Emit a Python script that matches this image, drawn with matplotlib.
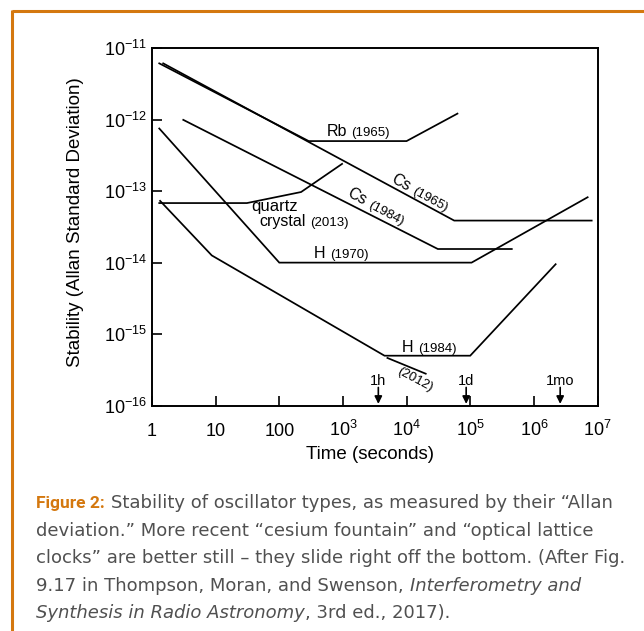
import math
import matplotlib
matplotlib.use("Agg")
import matplotlib.pyplot as plt
from matplotlib.lines import Line2D
from matplotlib.font_manager import FontProperties

# ---------------- data ----------------
rb1965_t = [1.3, 290, 1.0e4, 6.3e4]
rb1965_s = [6.1e-12, 5.0e-13, 5.0e-13, 1.21e-12]
cs1965_t = [1.5, 5.6e4, 8.1e6]
cs1965_s = [6.1e-12, 3.87e-14, 3.87e-14]
cs1984_t = [3.1, 3.1e4, 4.5e5]
cs1984_s = [9.9e-13, 1.55e-14, 1.55e-14]
quartz2013_t = [1.3, 31, 220, 970]
quartz2013_s = [6.8e-14, 6.8e-14, 9.7e-14, 2.4e-13]
h1970_t = [1.3, 100, 1.05e5, 7.0e6]
h1970_s = [7.5e-13, 1.0e-14, 1.0e-14, 8.2e-14]
h1984_t = [1.34, 8.7, 4.5e3, 1.0e5, 2.2e6]
h1984_s = [7.3e-14, 1.26e-14, 5.0e-16, 5.0e-16, 9.5e-15]
h2012_t = [5.0e3, 2.0e4]
h2012_s = [4.65e-16, 2.8e-16]

xticks = [1, 10, 100, 1e3, 1e4, 1e5, 1e6, 1e7]
xticklabels = ["1", "10", "100", r"$\mathrm{10^3}$", r"$\mathrm{10^4}$",
               r"$\mathrm{10^5}$", r"$\mathrm{10^6}$", r"$\mathrm{10^7}$"]
yticks = [1e-16, 1e-15, 1e-14, 1e-13, 1e-12, 1e-11]
yticklabels = [r"$\mathrm{10^{-16}}$", r"$\mathrm{10^{-15}}$", r"$\mathrm{10^{-14}}$",
               r"$\mathrm{10^{-13}}$", r"$\mathrm{10^{-12}}$", r"$\mathrm{10^{-11}}$"]

marker_names = ["1h", "1d", "1mo"]
marker_secs = [3600, 86400, 2.592e6]

caption_lines = [
    [("Figure 2:", "bold", False),
     ("Stability of oscillator types, as measured by their \u201cAllan", "normal", True)],
    [("deviation.\u201d More recent \u201ccesium fountain\u201d and \u201coptical lattice", "normal", False)],
    [("clocks\u201d are better still \u2013 they slide right off the bottom. (After Fig.", "normal", False)],
    [("9.17 in Thompson, Moran, and Swenson,", "normal", False),
     ("Interferometry and", "italic", True)],
    [("Synthesis in Radio Astronomy", "italic", False),
     (", 3rd ed., 2017).", "normal", False)],
]

# ---------------- style ----------------
plt.rcParams["font.family"] = ["Liberation Sans", "DejaVu Sans"]
plt.rcParams["mathtext.fontset"] = "custom"
plt.rcParams["mathtext.rm"] = "Liberation Sans"
plt.rcParams["mathtext.it"] = "Liberation Sans:italic"
plt.rcParams["mathtext.bf"] = "Liberation Sans:bold"

W, H = 644, 631
fig = plt.figure(figsize=(W / 100, H / 100), dpi=100)
fig.patch.set_facecolor("white")
renderer = fig.canvas.get_renderer()

ax = fig.add_axes([152 / W, 1 - 405.7 / H, 445.5 / W, 357.7 / H])
ax.set_xscale("log")
ax.set_yscale("log")
ax.set_xlim(1, 1e7)
ax.set_ylim(1e-16, 1e-11)

lw = 1.25
for t, s in [(rb1965_t, rb1965_s), (cs1965_t, cs1965_s), (cs1984_t, cs1984_s),
             (quartz2013_t, quartz2013_s), (h1970_t, h1970_s), (h1984_t, h1984_s),
             (h2012_t, h2012_s)]:
    ax.plot(t, s, color="black", lw=lw, solid_joinstyle="miter")

for sp in ax.spines.values():
    sp.set_linewidth(1.4)

ax.set_xticks(xticks)
ax.set_xticklabels(xticklabels)
ax.set_yticks(yticks)
ax.set_yticklabels(yticklabels)
ax.minorticks_off()
ax.tick_params(axis="both", which="major", direction="in", length=7, width=1.2,
               labelsize=13, top=False, right=False, colors="black")
ax.tick_params(axis="x", pad=22)
ax.tick_params(axis="y", pad=3.5)
for lab in ax.get_xticklabels():
    lab.set_verticalalignment("baseline")

ax.set_ylabel("Stability (Allan Standard Deviation)", fontsize=13.5, va="center")
ax.yaxis.set_label_coords(-0.1728, 0.5136)
ax.set_xlabel("Time (seconds)", fontsize=13.5, va="center")
ax.xaxis.set_label_coords(0.489, -0.1378)

# ---------------- curve labels ----------------
FS_BIG, FS_SMALL = 11.5, 9.5


def two_part(x, y, big, small, angle=0.0):
    fp_big = FontProperties(family="Liberation Sans", size=FS_BIG)
    fp_small = FontProperties(family="Liberation Sans", size=FS_SMALL)
    ax.text(x, y, big, fontproperties=fp_big, rotation=angle,
            rotation_mode="anchor", ha="left", va="baseline")
    w, _, _ = renderer.get_text_width_height_descent(big, fp_big, ismath=False)
    w2, _, _ = renderer.get_text_width_height_descent("a a", fp_small, ismath=False)
    w3, _, _ = renderer.get_text_width_height_descent("aa", fp_small, ismath=False)
    adv = w + (w2 - w3) + 1
    a = math.radians(angle)
    ax.annotate(small, xy=(x, y), xycoords="data",
                xytext=(adv * math.cos(a), adv * math.sin(a)), textcoords="offset pixels",
                fontproperties=fp_small, rotation=angle, rotation_mode="anchor",
                ha="left", va="baseline")


two_part(550, 5.9e-13, "Rb", "(1965)")
two_part(5.6e3, 1.36e-13, "Cs", "(1965)", angle=-28.5)
two_part(1135, 8.4e-14, "Cs", "(1984)", angle=-28)
ax.text(35.8, 5.29e-14, "quartz", fontsize=FS_BIG + 0.5, ha="left", va="baseline")
two_part(49, 3.21e-14, "crystal", "(2013)")
two_part(347, 1.16e-14, "H", "(1970)")
two_part(8550, 5.7e-16, "H", "(1984)")
ax.text(6960, 2.86e-16, "(2012)", fontsize=FS_SMALL, rotation=-28,
        rotation_mode="anchor", ha="left", va="baseline")

# ---------------- time markers ----------------
for name, sec in zip(marker_names, marker_secs):
    ax.annotate("", xy=(sec, 1.06e-16), xytext=(sec, 1.8e-16),
                arrowprops=dict(arrowstyle="-|>", color="black", lw=1.2,
                                mutation_scale=11, shrinkA=0, shrinkB=0))
    ax.text(sec, 1.96e-16, name, fontsize=10.5, ha="center", va="baseline")

# ---------------- orange frame ----------------
ORANGE = "#D4780F"
fig.add_artist(Line2D([11.5 / W, 1.0], [1 - 11 / H, 1 - 11 / H], color=ORANGE,
                      lw=2.2, transform=fig.transFigure, solid_capstyle="butt"))
fig.add_artist(Line2D([12 / W, 12 / W], [1 - 9.9 / H, 0.0], color=ORANGE,
                      lw=2.2, transform=fig.transFigure, solid_capstyle="butt"))

# ---------------- caption ----------------
CAP_FAMILY = "DejaVu Sans"
CAP_SIZE = 13
CAP_COLOR = "#505050"
baselines = [508, 536, 563, 591, 618]
x_start = 36.5


def cap_fp(style):
    if style == "bold":
        return FontProperties(family="Roboto", size=12.5, weight="bold")
    if style == "italic":
        return FontProperties(family=CAP_FAMILY, size=CAP_SIZE, style="italic")
    return FontProperties(family=CAP_FAMILY, size=CAP_SIZE)


fp_n = cap_fp("normal")
sw = (renderer.get_text_width_height_descent("a a", fp_n, ismath=False)[0]
      - renderer.get_text_width_height_descent("aa", fp_n, ismath=False)[0])

for line, yb in zip(caption_lines, baselines):
    x = x_start
    for text, style, gap in line:
        if gap:
            x += sw
        fp = cap_fp(style)
        color = ORANGE if style == "bold" else CAP_COLOR
        fig.text(x / W, 1 - yb / H, text, fontproperties=fp, color=color,
                 ha="left", va="baseline")
        x += renderer.get_text_width_height_descent(text, fp, ismath=False)[0]

fig.savefig("out.png", dpi=100, facecolor="white")
